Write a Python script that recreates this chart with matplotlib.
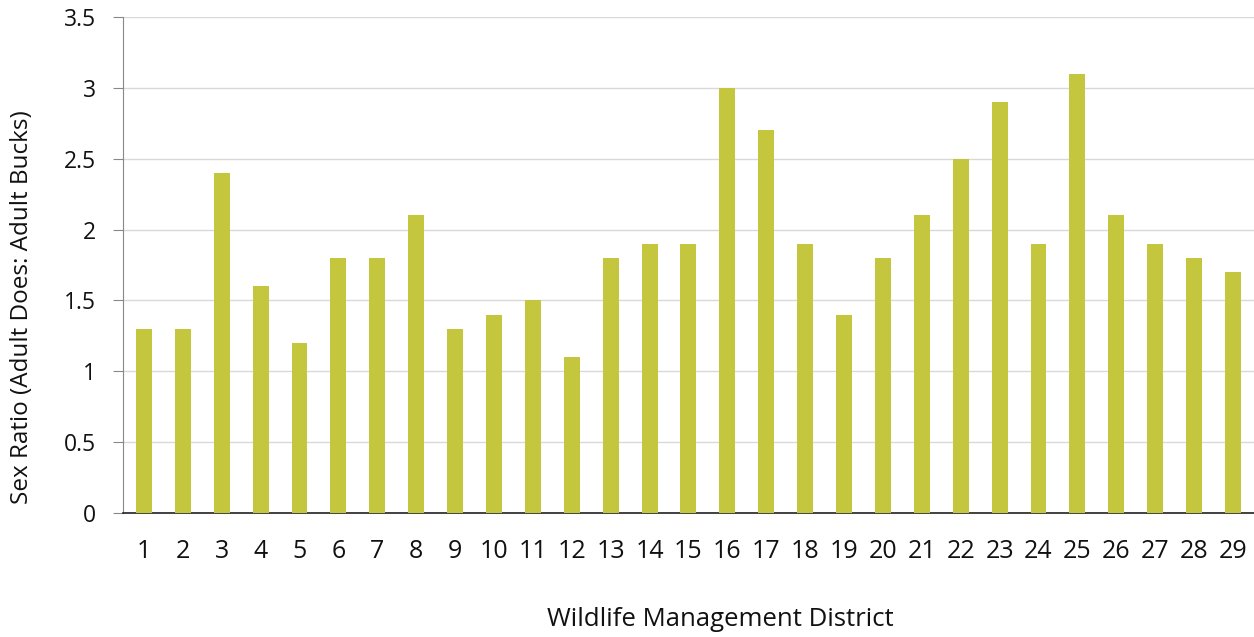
import matplotlib.pyplot as plt
import numpy as np

# sex ratio per wildlife management district
districts = [str(i) for i in range(1, 30)]
ratios = [1.3, 1.3, 2.4, 1.6, 1.2, 1.8, 1.8, 2.1, 1.3, 1.4, 1.5, 1.1, 1.8, 1.9, 1.9,
          3.0, 2.7, 1.9, 1.4, 1.8, 2.1, 2.5, 2.9, 1.9, 3.1, 2.1, 1.9, 1.8, 1.7]
yticks = [0, 0.5, 1, 1.5, 2, 2.5, 3, 3.5]
ytick_labels = ['0', '0.5', '1', '1.5', '2', '2.5', '3', '3.5']

plt.rcParams['font.family'] = ['Open Sans', 'DejaVu Sans']

fig = plt.figure(figsize=(12.54, 6.37), dpi=100)
ax = fig.add_axes([0.098, 0.195, 0.902, 0.778])

x = np.arange(len(districts))
ax.bar(x, ratios, width=0.41, color='#c4c73d', zorder=3)

ax.set_xlim(-0.54, len(districts) - 0.46)
ax.set_ylim(0, 3.5)
ax.set_yticks(yticks)
ax.set_yticklabels(ytick_labels, fontsize=16.5, color='#111111')
ax.set_xticks(x)
ax.set_xticklabels(districts, fontsize=18, color='#111111')
ax.tick_params(axis='x', length=0, pad=19)
ax.tick_params(axis='y', length=7.2, color='#888888', pad=12)

ax.grid(axis='y', color='#d9d9d9', linewidth=1, zorder=0)
for side in ['top', 'right']:
    ax.spines[side].set_visible(False)
ax.spines['left'].set_color('#888888')
ax.spines['bottom'].set_color('#222222')
ax.spines['bottom'].set_linewidth(1.2)

ax.set_ylabel('Sex Ratio (Adult Does: Adult Bucks)', fontsize=17.5, color='#111111', va='center')
ax.yaxis.set_label_coords(-0.089, 0.415)
ax.set_xlabel('Wildlife Management District', fontsize=18.5, color='#111111', va='center')
ax.xaxis.set_label_coords(0.528, -0.216)

fig.savefig('out.png', dpi=100)
